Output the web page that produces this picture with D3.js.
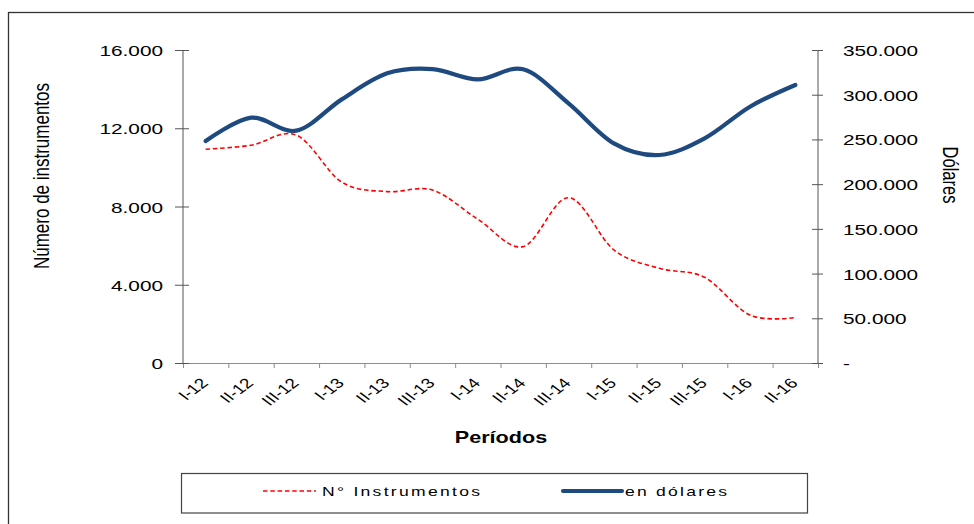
<!DOCTYPE html>
<html><head><meta charset="utf-8">
<script src="https://cdn.jsdelivr.net/npm/d3@7"></script>
<style>
body{margin:0;background:#fff}
svg{display:block}
text{font-family:"Liberation Sans",Arial,sans-serif;fill:#000}
</style>
</head><body><svg id="c" width="974" height="524"></svg>
<script>
const periods = ["I-12","II-12","III-12","I-13","II-13","III-13","I-14","II-14","III-14","I-15","II-15","III-15","I-16","II-16"];
const instrumentos = [10930,11130,11650,9250,8760,8840,7350,5950,8450,5780,4840,4380,2450,2320];
const dolares = [248200,274300,259800,294800,323900,328700,317200,328400,290400,245600,232600,251200,286600,310900];
const leftTicks = [0,4000,8000,12000,16000];
const rightTicks = [0,50000,100000,150000,200000,250000,300000,350000];
const seriesNames = ["N° Instrumentos","en dólares"];
const titles = {left:"Número de instrumentos", right:"Dólares", x:"Períodos"};

const SX = 1.35;
const svg = d3.select("#c");
const L = 183, R = 818, T = 50, B = 363;
const loc = d3.formatLocale({decimal:",", thousands:".", grouping:[3], currency:["$",""]});
const fmt = loc.format(",d");

// outer frame
svg.append("rect").attr("x",8.5).attr("y",12.5).attr("width",980).attr("height",530)
  .attr("fill","none").attr("stroke","#333").attr("stroke-width",1.3);

const x = d3.scalePoint().domain(periods).range([L,R]).padding(0.5);
const xb = d3.scaleLinear().domain([0,periods.length]).range([L,R]);
const yL = d3.scaleLinear().domain([0,16000]).range([B,T]);
const yR = d3.scaleLinear().domain([0,350000]).range([B,T]);

// x axis (boundary ticks)
const gx = svg.append("g").attr("transform",`translate(0,${B})`)
  .call(d3.axisBottom(xb).tickValues(d3.range(periods.length+1)).tickSize(5).tickFormat(""));
gx.select(".domain").attr("stroke","#8c8c8c");
gx.selectAll(".tick line").attr("stroke","#8c8c8c");

// x labels
const gxl = svg.append("g").attr("transform",`translate(0,${B})`)
  .call(d3.axisBottom(x).tickSize(0));
gxl.select(".domain").remove();
gxl.selectAll(".tick text")
  .attr("x",0).attr("y",0).attr("dy",null)
  .attr("text-anchor","end").style("font-size","14px")
  .attr("transform",`translate(3,21) scale(${SX},1) rotate(-45)`);

// left axis
const gl = svg.append("g").attr("transform",`translate(${L},0)`)
  .call(d3.axisLeft(yL).tickValues(leftTicks).tickFormat(fmt));
gl.select(".domain").attr("stroke","#555").attr("d",`M0,${T}V${B}`);
gl.selectAll(".tick line").attr("stroke","#555").attr("x1",6).attr("x2",-8);
gl.selectAll(".tick text").attr("x",0).attr("dy","0.36em")
  .attr("text-anchor","end").style("font-size","15.4px")
  .attr("transform",`translate(-20,0) scale(${SX},1)`);

// right axis
const gr = svg.append("g").attr("transform",`translate(${R},0)`)
  .call(d3.axisRight(yR).tickValues(rightTicks).tickFormat(d => d === 0 ? "-" : fmt(d)));
gr.select(".domain").attr("stroke","#555").attr("d",`M0,${T}V${B}`);
gr.selectAll(".tick line").attr("stroke","#555").attr("x1",-6).attr("x2",5);
gr.selectAll(".tick text").attr("x",0).attr("dy","0.36em")
  .attr("text-anchor","start").style("font-size","15.4px")
  .attr("transform",`translate(25,0) scale(${SX},1)`);

// axis titles
svg.append("text").text(titles.left).attr("text-anchor","middle").style("font-size","17px")
  .attr("transform",`translate(49,176) scale(${SX},1) rotate(-90)`);
svg.append("text").text(titles.right).attr("text-anchor","middle").style("font-size","16.5px")
  .attr("transform",`translate(943,175) scale(${SX},1) rotate(90)`);
svg.append("text").text(titles.x).attr("text-anchor","middle").style("font-size","16px")
  .style("font-weight","bold")
  .attr("transform",`translate(501,443) scale(${SX},1)`);

// lines
const curve = d3.curveCardinal.tension(0);
const lineL = d3.line().x((d,i)=>x(periods[i])).y(d=>yL(d)).curve(curve);
const lineR = d3.line().x((d,i)=>x(periods[i])).y(d=>yR(d)).curve(curve);

svg.append("path").attr("d",lineL(instrumentos)).attr("fill","none")
  .attr("stroke","#ff0000").attr("stroke-width",1.6).attr("stroke-dasharray","4.5,2.8");
svg.append("path").attr("d",lineR(dolares)).attr("fill","none")
  .attr("stroke","#1f4a80").attr("stroke-width",4.2).attr("stroke-linecap","round");

// legend
const lg = svg.append("g");
lg.append("rect").attr("x",181.5).attr("y",473.5).attr("width",626).attr("height",39.5)
  .attr("fill","#fff").attr("stroke","#444").attr("stroke-width",1.2);
lg.append("line").attr("x1",263).attr("x2",316).attr("y1",491).attr("y2",491)
  .attr("stroke","#ff0000").attr("stroke-width",1.6).attr("stroke-dasharray","4.5,2.8");
lg.append("text").text(seriesNames[0]).style("font-size","13px")
  .attr("textLength",158/SX).attr("lengthAdjust","spacing")
  .attr("transform",`translate(322,496) scale(${SX},1)`);
lg.append("line").attr("x1",563).attr("x2",622).attr("y1",491).attr("y2",491)
  .attr("stroke","#1f4a80").attr("stroke-width",4.2).attr("stroke-linecap","round");
lg.append("text").text(seriesNames[1]).style("font-size","13px")
  .attr("textLength",102/SX).attr("lengthAdjust","spacing")
  .attr("transform",`translate(625,496) scale(${SX},1)`);
</script>
</body></html>
